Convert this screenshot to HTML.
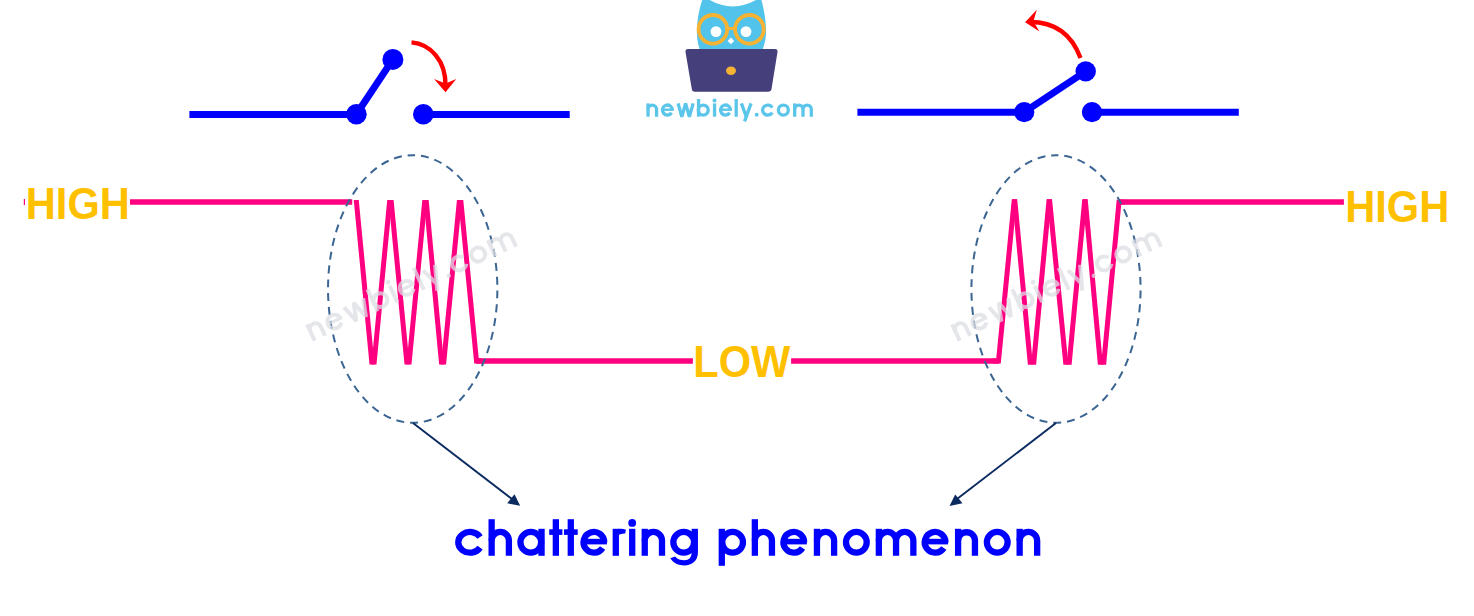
<!DOCTYPE html>
<html><head><meta charset="utf-8">
<style>
html,body{margin:0;padding:0;background:#fff;width:1474px;height:616px;overflow:hidden}
svg{display:block}
text{font-family:"Liberation Sans",sans-serif;font-weight:bold}
</style></head>
<body>
<svg width="1474" height="616" viewBox="0 0 1474 616">
<rect width="1474" height="616" fill="#fff"/>



<!-- left switch -->
<g stroke="#0000ff" stroke-width="7" fill="none">
  <line x1="189.4" y1="114.4" x2="356.4" y2="114.4"/>
  <line x1="356.4" y1="114.3" x2="392.9" y2="59.4"/>
  <line x1="423.3" y1="114.4" x2="569.7" y2="114.4"/>
  <line x1="857.4" y1="112.3" x2="1024.2" y2="112.3"/>
  <line x1="1024.2" y1="112.1" x2="1085.7" y2="71.4"/>
  <line x1="1092" y1="112.3" x2="1238.8" y2="112.3"/>
</g>
<g fill="#0000ff">
  <circle cx="356.4" cy="114.3" r="10.3"/>
  <circle cx="392.9" cy="59.4" r="10.5"/>
  <circle cx="423.3" cy="114.3" r="10.3"/>
  <circle cx="1024.2" cy="112.1" r="10.2"/>
  <circle cx="1085.7" cy="71.4" r="10.2"/>
  <circle cx="1092" cy="112.1" r="10.2"/>
</g>

<!-- red arrows -->
<g stroke="#ff0000" stroke-width="4.4" fill="none">
  <path d="M411.5,42.4 C430,44 446,60 445.5,86"/>
  <path d="M1080.5,58 C1072,35 1055,22 1030,22"/>
</g>
<g fill="#ff0000">
  <polygon points="434.1,79.1 445.5,92.3 456.3,79.1 445.5,83.5"/>
  <polygon points="1025.1,22.2 1036.8,9.7 1033.4,21.6 1039.5,31.6"/>
</g>

<!-- logo -->
<g>
  <path d="M702.3,0 L709.7,0 Q732.8,12.8 756,0 L761.4,0 C764,9 766.3,22 766,33 C765.8,41 763.5,47 761.5,53 L701,53 C698.8,47 697,41 696.9,33 C696.8,22 699,9 702.3,0 Z" fill="#52c3ea"/>
  <circle cx="712.9" cy="29.3" r="14.3" fill="none" stroke="#f6b232" stroke-width="3.8"/>
  <circle cx="749.4" cy="29.3" r="14.3" fill="none" stroke="#f6b232" stroke-width="3.8"/>
  <line x1="727" y1="28.5" x2="735" y2="28.5" stroke="#f6b232" stroke-width="3"/>
  <circle cx="716" cy="31.6" r="5.4" fill="#fff"/>
  <circle cx="746" cy="31.6" r="5.4" fill="#fff"/>
  <polygon points="730.9,37.6 734.2,40.9 730.9,44.2 727.6,40.9" fill="#fff"/>
  <path d="M688,49 L775,49 Q778,49 777.5,52 L771.5,89 Q771,91.8 768,91.8 L695,91.8 Q692,91.8 691.8,89 L685.5,52 Q685,49 688,49 Z" fill="#45407b"/>
  <ellipse cx="731" cy="70.7" rx="5" ry="4.2" fill="#f6b232"/>
  <!--LOGO-->
<g >
<g fill="none" stroke="#5bc5ea" stroke-width="3.30" stroke-linejoin="miter" stroke-miterlimit="3">
  <path d="M648.05,103.40V116.70"/>
  <path d="M648.05,109.30A4.25,4.25 0 0 1 656.55,109.30V116.70"/>
  <path d="M672.40,110.05A5.00,5.00 0 1 0 671.59,112.77"/>
  <path d="M678.05,103.40 L681.82,116.70 L685.60,103.40 L689.37,116.70 L693.15,103.40"/>
  <path d="M698.55,99.00V116.70"/>
  <path d="M698.25,110.05A5.00,5.00 0 1 1 708.25,110.05A5.00,5.00 0 1 1 698.25,110.05"/>
  <path d="M714.55,103.40V116.70"/>
  <path d="M730.50,110.05A5.00,5.00 0 1 0 729.69,112.77"/>
  <path d="M736.20,99.00V116.70"/>
  <path d="M741.45,103.40 L746.25,116.70"/>
  <path d="M751.05,103.40 L744.55,121.40"/>
  <path d="M772.25,107.55A5.20,5.00 0 1 0 772.25,112.55"/>
  <path d="M778.35,110.05A5.00,5.00 0 1 1 788.35,110.05A5.00,5.00 0 1 1 778.35,110.05"/>
  <path d="M794.70,103.40V116.70"/>
  <path d="M794.70,109.20A4.15,4.15 0 0 1 803.00,109.20V116.70"/>
  <path d="M803.00,109.20A4.15,4.15 0 0 1 811.30,109.20V116.70"/>
</g>
<g fill="#5bc5ea">
  <rect x="661.24" y="108.51" width="12.56" height="2.40"/>
  <circle cx="714.55" cy="100.60" r="2.00"/>
  <rect x="719.34" y="108.51" width="12.56" height="2.40"/>
  <circle cx="756.70" cy="114.75" r="1.95"/>
</g>
</g>
<!--/LOGO-->
</g>

<!-- signal -->
<defs>
  <clipPath id="cl"><rect x="300" y="200" width="200" height="164.6"/></clipPath>
  <clipPath id="cr"><rect x="980" y="199.2" width="160" height="165.5"/></clipPath>
</defs>
<g stroke="#ff0080" fill="none">
  <line x1="130" y1="202" x2="352.2" y2="202" stroke-width="5.5"/>
  <line x1="24.4" y1="199" x2="24.4" y2="205" stroke-width="1.2"/>
  <line x1="476" y1="361" x2="692.9" y2="361" stroke-width="5.6"/>
  <line x1="791.1" y1="361" x2="999" y2="361" stroke-width="5.6"/>
  <line x1="1118.5" y1="201.9" x2="1343.9" y2="201.9" stroke-width="5.5"/>
  <!--WAVE-->
<g clip-path="url(#cl)" stroke-width="5.0">
  <path d="M355.49,192.04L372.81,372.56"/>
  <path d="M373.19,372.56L390.51,192.04"/>
  <path d="M390.28,192.04L407.82,372.56"/>
  <path d="M408.18,372.56L425.62,192.04"/>
  <path d="M425.40,192.04L442.40,372.56"/>
  <path d="M442.78,372.56L460.22,192.04"/>
  <path d="M459.97,192.04L476.5,361L482,361" stroke-miterlimit="10"/>
</g>
<g clip-path="url(#cr)" stroke-width="5.0">
  <path d="M993,361L998.5,361L1015.08,191.24" stroke-miterlimit="10"/>
  <path d="M1013.94,191.24L1031.16,372.66"/>
  <path d="M1032.85,372.67L1049.85,191.23"/>
  <path d="M1048.71,191.24L1066.69,372.66"/>
  <path d="M1068.34,372.66L1085.56,191.24"/>
  <path d="M1084.47,191.23L1101.13,372.67"/>
  <path d="M1102.85,372.66L1119,201.9L1125,201.9" stroke-miterlimit="10"/>
</g>
<!--/WAVE-->
</g>

<!-- dashed ellipses -->
<g fill="none" stroke="#3b6592" stroke-width="2" stroke-dasharray="8.0 5.9" stroke-dashoffset="5.6">
  <path d="M412.7,155.2 A84.7,133.8 0 0 1 412.7,422.8 A84.7,133.8 0 0 1 412.7,155.2"/>
  <path d="M1056,155.2 A84.6,133.8 0 0 1 1056,422.8 A84.6,133.8 0 0 1 1056,155.2"/>
</g>

<!-- pointer arrows -->
<g stroke="#0b2a60" stroke-width="1.9" fill="none">
  <line x1="413" y1="423" x2="512" y2="499"/>
  <line x1="1056" y1="423" x2="957" y2="499"/>
</g>
<g fill="#0b2a60">
  <polygon points="520.2,505.7 514.5,494.2 507.2,503.3"/>
  <polygon points="949.5,506.1 955.2,494.4 962.5,503.3"/>
</g>

<!--WM-->
<g transform="translate(312.90,341.45) rotate(-25) scale(0.661)" opacity="0.75">
<g fill="none" stroke="#dcdee4" stroke-width="6.00" stroke-linejoin="miter" stroke-miterlimit="3">
  <path d="M3.00,-27.00V0.00"/>
  <path d="M3.00,-15.35A8.65,8.65 0 0 1 20.30,-15.35V0.00"/>
  <path d="M52.70,-13.50A10.50,10.50 0 1 0 51.01,-7.78"/>
  <path d="M64.60,-27.00 L72.60,0.00 L80.60,-27.00 L88.60,0.00 L96.60,-27.00"/>
  <path d="M108.00,-36.60V0.00"/>
  <path d="M108.50,-13.50A10.50,10.50 0 1 1 129.50,-13.50A10.50,10.50 0 1 1 108.50,-13.50"/>
  <path d="M140.90,-27.00V0.00"/>
  <path d="M173.30,-13.50A10.50,10.50 0 1 0 171.61,-7.78"/>
  <path d="M185.20,-36.60V0.00"/>
  <path d="M196.60,-27.00 L206.60,0.00"/>
  <path d="M216.60,-27.00 L202.90,10.00"/>
  <path d="M259.94,-18.75A10.90,10.50 0 1 0 259.94,-8.25"/>
  <path d="M271.80,-13.50A10.50,10.50 0 1 1 292.80,-13.50A10.50,10.50 0 1 1 271.80,-13.50"/>
  <path d="M304.70,-27.00V0.00"/>
  <path d="M304.70,-15.40A8.60,8.60 0 0 1 321.90,-15.40V0.00"/>
  <path d="M321.90,-15.40A8.60,8.60 0 0 1 339.10,-15.40V0.00"/>
</g>
<g fill="#dcdee4">
  <rect x="29.70" y="-16.60" width="25.50" height="4.80"/>
  <circle cx="140.90" cy="-33.00" r="3.60"/>
  <rect x="150.30" y="-16.60" width="25.50" height="4.80"/>
  <circle cx="228.30" cy="-3.30" r="3.30"/>
</g>
</g>
<g transform="translate(957.90,341.45) rotate(-25) scale(0.661)" opacity="0.75">
<g fill="none" stroke="#dcdee4" stroke-width="6.00" stroke-linejoin="miter" stroke-miterlimit="3">
  <path d="M3.00,-27.00V0.00"/>
  <path d="M3.00,-15.35A8.65,8.65 0 0 1 20.30,-15.35V0.00"/>
  <path d="M52.70,-13.50A10.50,10.50 0 1 0 51.01,-7.78"/>
  <path d="M64.60,-27.00 L72.60,0.00 L80.60,-27.00 L88.60,0.00 L96.60,-27.00"/>
  <path d="M108.00,-36.60V0.00"/>
  <path d="M108.50,-13.50A10.50,10.50 0 1 1 129.50,-13.50A10.50,10.50 0 1 1 108.50,-13.50"/>
  <path d="M140.90,-27.00V0.00"/>
  <path d="M173.30,-13.50A10.50,10.50 0 1 0 171.61,-7.78"/>
  <path d="M185.20,-36.60V0.00"/>
  <path d="M196.60,-27.00 L206.60,0.00"/>
  <path d="M216.60,-27.00 L202.90,10.00"/>
  <path d="M259.94,-18.75A10.90,10.50 0 1 0 259.94,-8.25"/>
  <path d="M271.80,-13.50A10.50,10.50 0 1 1 292.80,-13.50A10.50,10.50 0 1 1 271.80,-13.50"/>
  <path d="M304.70,-27.00V0.00"/>
  <path d="M304.70,-15.40A8.60,8.60 0 0 1 321.90,-15.40V0.00"/>
  <path d="M321.90,-15.40A8.60,8.60 0 0 1 339.10,-15.40V0.00"/>
</g>
<g fill="#dcdee4">
  <rect x="29.70" y="-16.60" width="25.50" height="4.80"/>
  <circle cx="140.90" cy="-33.00" r="3.60"/>
  <rect x="150.30" y="-16.60" width="25.50" height="4.80"/>
  <circle cx="228.30" cy="-3.30" r="3.30"/>
</g>
</g>
<!--/WM-->
<!-- labels -->
<g fill="#ffc000" font-size="43.2">
  <text transform="translate(25.8,218.6) scale(1,1.03)" textLength="104" lengthAdjust="spacingAndGlyphs">HIGH</text>
  <text transform="translate(1345.2,221.6) scale(1,1.03)" textLength="104" lengthAdjust="spacingAndGlyphs">HIGH</text>
  <text transform="translate(693.2,376.6) scale(1,1.03)" textLength="97.2" lengthAdjust="spacingAndGlyphs">LOW</text>
</g>
<!--TEXT-->
<g >
<g fill="none" stroke="#0000ff" stroke-width="6.30" stroke-linejoin="miter" stroke-miterlimit="3">
  <path d="M480.07,536.97A11.75,10.35 0 1 0 480.07,547.63"/>
  <path d="M491.65,519.20V555.80"/>
  <path d="M491.65,540.57A8.62,8.62 0 0 1 508.90,540.57V555.80"/>
  <path d="M520.45,542.30A10.35,10.35 0 1 1 541.15,542.30A10.35,10.35 0 1 1 520.45,542.30"/>
  <path d="M541.55,528.80V555.80"/>
  <path d="M555.85,519.20V555.80"/>
  <path d="M570.80,519.20V555.80"/>
  <path d="M604.25,542.30A10.35,10.35 0 1 0 602.58,547.94"/>
  <path d="M615.80,528.80V555.80"/>
  <path d="M632.20,528.80V555.80"/>
  <path d="M644.75,528.80V555.80"/>
  <path d="M644.75,540.57A8.62,8.62 0 0 1 662.00,540.57V555.80"/>
  <path d="M673.35,542.30A10.35,10.35 0 1 1 694.05,542.30A10.35,10.35 0 1 1 673.35,542.30"/>
  <path d="M694.80,528.80V549.00"/>
  <path d="M721.80,528.80V565.80"/>
  <path d="M722.25,542.30A10.35,10.35 0 1 1 742.95,542.30A10.35,10.35 0 1 1 722.25,542.30"/>
  <path d="M754.85,519.20V555.80"/>
  <path d="M754.85,540.50A8.55,8.55 0 0 1 771.95,540.50V555.80"/>
  <path d="M804.15,542.30A10.35,10.35 0 1 0 802.48,547.94"/>
  <path d="M816.95,528.80V555.80"/>
  <path d="M816.95,540.52A8.57,8.57 0 0 1 834.10,540.52V555.80"/>
  <path d="M846.00,542.30A10.35,10.35 0 1 1 866.70,542.30A10.35,10.35 0 1 1 846.00,542.30"/>
  <path d="M878.85,528.80V555.80"/>
  <path d="M878.85,540.55A8.60,8.60 0 0 1 896.05,540.55V555.80"/>
  <path d="M896.05,540.60A8.65,8.65 0 0 1 913.35,540.60V555.80"/>
  <path d="M945.45,542.30A10.35,10.35 0 1 0 943.78,547.94"/>
  <path d="M958.10,528.80V555.80"/>
  <path d="M958.10,540.38A8.43,8.43 0 0 1 974.95,540.38V555.80"/>
  <path d="M986.90,542.30A10.35,10.35 0 1 1 1007.60,542.30A10.35,10.35 0 1 1 986.90,542.30"/>
  <path d="M1019.65,528.80V555.80"/>
  <path d="M1019.65,540.70A8.75,8.75 0 0 1 1037.15,540.70V555.80"/>
</g>
<g fill="#0000ff">
  <rect x="549.20" y="529.30" width="13.20" height="5.60"/>
  <rect x="564.00" y="529.30" width="13.70" height="5.60"/>
  <rect x="581.40" y="538.80" width="25.50" height="5.60"/>
  <path d="M618.45,528.80L620.95,528.80Q623.45,528.80 625.95,529.70L625.15,533.40Q621.15,533.20 618.45,535.10Z"/>
  <circle cx="632.20" cy="522.90" r="3.90"/>
  <path d="M697.95,548 L697.95,552 C697.95,561 691.95,565.4 684.50,565.4 C678.50,565.4 673.50,563.2 670.30,558.2 L675.10,556.4 C677.30,559.2 680.50,560.2 684.50,560.2 C689.00,560.2 691.65,557.5 691.65,552 L691.65,548 Z"/>
  <rect x="781.30" y="538.80" width="25.50" height="5.60"/>
  <rect x="922.60" y="538.80" width="25.50" height="5.60"/>
</g>
</g>
<!--/TEXT-->
</svg>
</body></html>
